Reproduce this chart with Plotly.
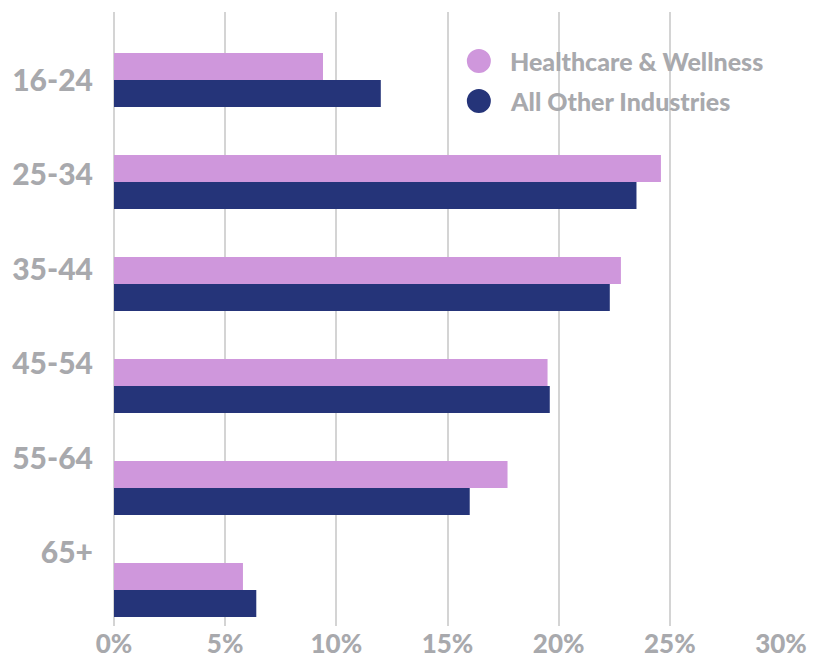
import plotly.graph_objects as go

categories = ["16-24", "25-34", "35-44", "45-54", "55-64", "65+"]
healthcare = [9.4, 24.6, 22.8, 19.5, 17.7, 5.8]
other = [12.0, 23.5, 22.3, 19.6, 16.0, 6.4]
series_names = ["Healthcare & Wellness", "All Other Industries"]
x_ticks = [0, 5, 10, 15, 20, 25, 30]
x_tick_labels = ["0%", "5%", "10%", "15%", "20%", "25%", "30%"]

PINK = "#cf97dc"
NAVY = "#253479"
GRAY = "#a8a9ad"
GRID = "#d4d4d4"
FONT = "Lato"
W = 900

fig = go.Figure()
fig.add_trace(go.Bar(y=categories, x=healthcare, orientation="h", name=series_names[0],
                     marker=dict(color=PINK, line=dict(width=0)), showlegend=False))
fig.add_trace(go.Bar(y=categories, x=other, orientation="h", name=series_names[1],
                     marker=dict(color=NAVY, line=dict(width=0)), showlegend=False))

n = len(categories)
fig.update_layout(
    width=819, height=652,
    margin=dict(l=106, r=46, t=4, b=34),
    paper_bgcolor="white", plot_bgcolor="white",
    barmode="group", bargap=0.47, bargroupgap=0,
    font=dict(family=FONT, color=GRAY, weight=W),
    xaxis=dict(range=[0, 30], tickvals=x_ticks, ticktext=x_tick_labels,
               showgrid=True, gridcolor=GRID, gridwidth=1.5,
               zeroline=True, zerolinecolor=GRID, zerolinewidth=1.5,
               tickfont=dict(family=FONT, size=26, color=GRAY, weight=W),
               ticks="",
               showline=False, fixedrange=True, automargin=False),
    yaxis=dict(type="category", categoryorder="array", categoryarray=categories,
               range=[5.353, -0.667], showticklabels=False, showgrid=False,
               zeroline=False, showline=False, automargin=False),
    yaxis2=dict(overlaying="y", anchor="x", side="left",
                range=[5.772, -0.719], tickvals=list(range(n)), ticktext=categories,
                tickfont=dict(family=FONT, size=30, color=GRAY, weight=W),
                ticks="outside", ticklen=14, tickcolor="rgba(0,0,0,0)",
                showgrid=False, zeroline=False, showline=False, automargin=False),
)

# invisible trace to activate yaxis2
fig.add_trace(go.Scatter(x=[None], y=[None], yaxis="y2", showlegend=False, hoverinfo="skip"))

# custom legend
legend_colors = [PINK, NAVY]
legend_px = [61, 101]
cx = 0.547
plot_top, plot_h = 12, 614
rx, ry = 12 / 667, 12 / plot_h
for name, col, py in zip(series_names, legend_colors, legend_px):
    ly = 1 - (py - plot_top) / plot_h
    fig.add_shape(type="circle", xref="paper", yref="paper",
                  x0=cx - rx, x1=cx + rx, y0=ly - ry, y1=ly + ry,
                  fillcolor=col, line=dict(width=0))
    fig.add_annotation(xref="paper", yref="paper", x=0.59, y=ly, text=name,
                       showarrow=False, xanchor="left", yanchor="middle",
                       font=dict(family=FONT, size=25, color=GRAY, weight=W))

fig.write_html("out.html")
